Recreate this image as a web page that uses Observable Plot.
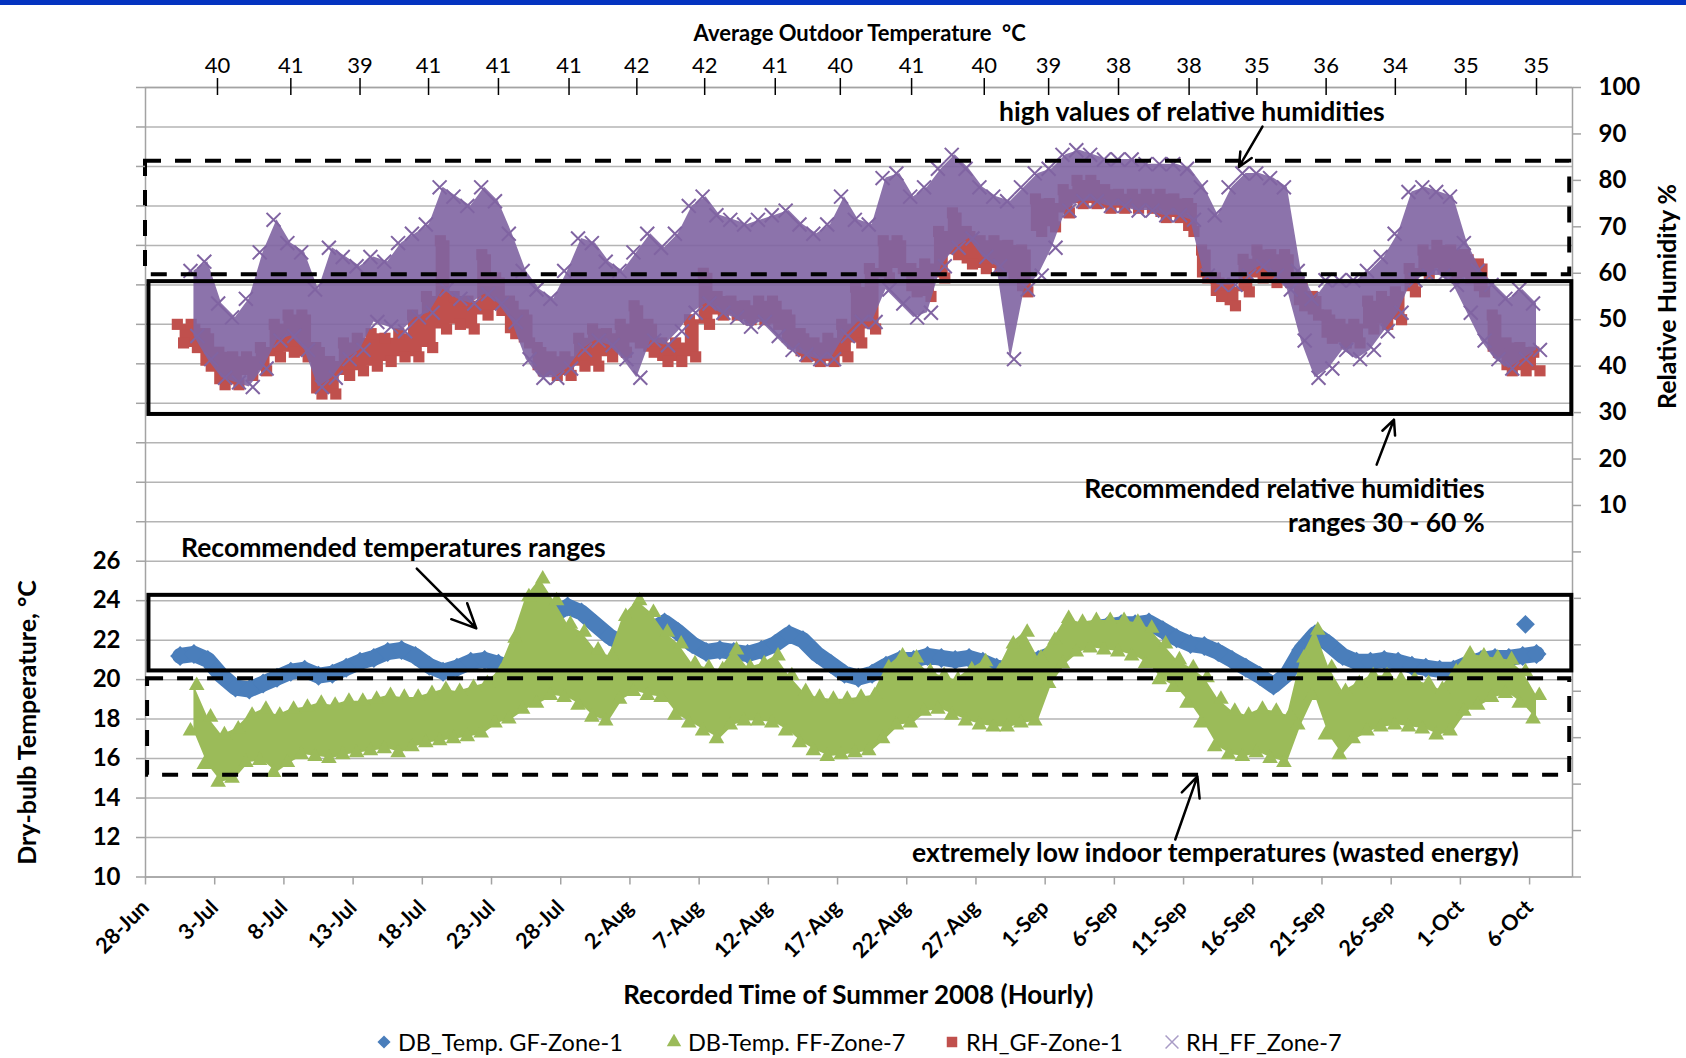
<!DOCTYPE html>
<html><head><meta charset="utf-8">
<script src="https://cdn.jsdelivr.net/npm/d3@7"></script>
<script src="https://cdn.jsdelivr.net/npm/@observablehq/plot@0.6"></script>
<style>
html,body{margin:0;padding:0;background:#fff;}
body{width:1686px;height:1058px;position:relative;overflow:hidden;font-family:Lato,"Open Sans",sans-serif;}
#bar{position:absolute;left:0;top:0;width:1686px;height:5px;background:#0433c0;}
#chart{position:absolute;left:0;top:0;}
#legend{position:absolute;left:0;top:1029px;width:1686px;height:26px;font-size:23.5px;color:#000;}
.item{position:absolute;top:0;height:26px;line-height:26px;display:flex;align-items:center;white-space:nowrap;}
.item svg{margin-right:6px;}
</style></head><body>
<div id="chart"></div><div id="bar"></div><div id="legend"></div>
<script>
// ---------- data (daily readings, first entry = 30-Jun-2008) ----------
const firstDay = 2; // days after 28-Jun
const dbGF = [21.2,21.3,21.0,20.2,19.6,19.5,19.8,20.1,20.4,20.5,
 20.2,20.3,20.6,20.9,21.1,21.4,21.5,21.2,20.7,20.4,
 20.6,20.9,21.0,20.8,20.6,21.5,22.5,23.3,23.7,23.4,
 22.8,22.2,21.8,21.9,22.5,22.9,22.4,21.8,21.4,21.5,
 21.4,21.3,21.5,21.8,22.3,22.0,21.3,20.8,20.3,20.1,
 20.3,20.7,21.0,21.0,21.2,21.1,21.0,21.1,20.9,20.6,
 20.5,20.6,21.0,21.3,21.8,22.3,22.6,22.7,22.8,22.8,
 22.9,22.5,22.1,21.8,21.7,21.4,21.0,20.6,20.2,19.7,
 20.3,21.5,22.3,21.8,21.2,20.9,20.9,21.0,20.9,20.7,
 20.6,20.5,20.5,20.8,21.0,21.1,21.1,21.2,21.3];
const dbGFOutlier = [{day: 99.7, value: 22.8}];
const dbFFLow = [null,17.4,15.7,14.8,15.0,15.8,15.9,15.3,15.8,16.2,
 16.1,16.0,16.2,16.3,16.4,16.5,16.3,16.6,16.8,16.9,
 17.0,17.1,17.3,17.8,18.0,18.5,18.8,19.2,19.1,18.7,
 18.1,17.9,19.0,19.4,19.2,19.1,18.2,17.8,17.4,17.0,
 17.7,17.9,17.9,17.8,17.4,16.8,16.4,16.1,16.2,16.3,
 16.4,17.0,17.7,17.8,18.4,18.5,18.2,17.9,17.7,17.6,
 17.6,17.8,17.9,19.8,20.8,21.4,21.6,21.5,21.4,21.2,
 20.8,20.0,19.6,18.8,17.8,16.6,16.2,16.1,16.3,16.0,
 15.8,17.7,19.2,17.2,16.2,17.0,17.4,17.6,17.7,17.6,
 17.5,17.2,17.4,18.4,18.7,19.1,19.3,18.8,18.0];
const dbFFHigh = [null,19.7,18.1,17.2,17.5,18.2,18.5,18.2,18.5,18.6,
 18.8,18.7,18.9,18.9,19.0,19.2,19.1,19.1,19.3,19.5,
 19.4,19.6,19.8,20.4,22.1,24.2,25.1,24.0,22.8,22.4,
 21.5,21.2,23.2,24.0,23.4,22.4,21.8,20.8,20.6,20.5,
 21.5,20.6,20.8,21.2,20.2,19.4,19.1,19.0,19.0,19.1,
 19.2,20.6,21.2,21.1,20.4,20.2,20.0,20.5,20.9,20.4,
 21.8,22.4,21.1,22.0,23.1,22.9,23.0,23.0,23.0,22.9,
 22.6,21.8,21.0,20.6,20.1,19.0,18.4,18.2,18.5,18.4,
 18.2,21.1,22.5,20.6,19.4,19.8,20.2,20.2,20.0,20.0,
 19.8,19.5,20.4,21.3,21.2,21.1,21.0,20.4,19.2];
const rhGFLow = [45,44,40,36,36,38,39,42,43,42,
 34,34,38,39,40,41,42,42,44,48,
 49,48,51,52,47,45,39,38,38,40,
 40,42,43,45,43,41,41,42,49,51,
 51,50,50,49,45,42,41,41,42,45,
 48,59,61,56,55,59,64,62,61,61,
 60,56,69,70,73,75,75,74,74,74,
 74,72,72,69,59,55,53,56,59,58,
 58,53,51,46,45,45,48,49,50,56,
 60,61,60,59,56,43,39,39,39];
const rhGFHigh = [49,49,47,43,42,42,44,49,51,51,
 44,41,45,46,47,46,47,51,55,67,
 55,54,64,59,54,51,44,42,42,46,
 48,47,49,53,49,45,45,50,60,55,
 54,53,54,54,51,47,45,46,49,57,
 61,67,67,61,62,69,73,69,67,67,
 66,65,76,75,78,80,80,78,77,77,
 77,77,76,75,65,59,57,63,65,64,
 64,58,55,51,49,49,54,55,56,61,
 65,66,65,64,62,51,45,44,43];
const rhFFLow = [null,46.5,41.5,37.5,36.5,35.5,39.5,45.5,46.5,43.5,
 35.5,37.5,41.5,43.5,49.5,48.5,47.5,50.5,51.5,56.5,
 54.5,53.5,55.5,53.5,49.5,41.5,37.5,37.5,39.5,43.5,
 45.5,44.5,41.5,37.5,45.5,44.5,47.5,51.5,53.5,51.5,
 50.5,48.5,49.5,46.5,43.5,42.5,41.5,41.5,46.5,49.5,
 49.5,56.5,53.5,50.5,51.5,61.5,65.5,67.5,63.5,61.5,
 41.5,56.5,59.5,65.5,73.5,75.5,75.5,74.5,74.5,73.5,
 73.5,72.5,72.5,71.5,59.5,57.5,57.5,59.5,61.5,59.5,
 56.5,45.5,37.5,39.5,43.5,41.5,43.5,47.5,51.5,58.5,
 59.5,59.5,57.5,51.5,45.5,41.5,39.5,41.5,43.5];
const rhFFHigh = [null,60.5,62.5,53.5,50.5,54.5,64.5,71.5,66.5,64.5,
 56.5,65.5,63.5,61.5,63.5,62.5,66.5,68.5,70.5,78.5,
 76.5,74.5,78.5,75.5,68.5,60.5,56.5,54.5,60.5,67.5,
 66.5,62.5,60.5,64.5,68.5,65.5,68.5,74.5,76.5,72.5,
 71.5,70.5,71.5,72.5,73.5,70.5,68.5,70.5,76.5,71.5,
 70.5,80.5,81.5,76.5,78.5,82.5,85.5,82.5,78.5,76.5,
 75.5,78.5,81.5,82.5,85.5,86.5,85.5,84.5,84.5,84.5,
 83.5,83.5,83.5,82.5,78.5,72.5,78.5,81.5,81.5,80.5,
 78.5,60.5,54.5,58.5,58.5,58.5,60.5,63.5,68.5,77.5,
 78.5,77.5,76.5,66.5,60.5,57.5,54.5,56.5,53.5];

// axes
const bottomTickDays = [0,5,10,15,20,25,30,35,40,45,50,55,60,65,70,75,80,85,90,95,100];
const topTickDays = [5.2,10.5,15.5,20.45,25.5,30.6,35.5,40.4,45.5,50.2,55.35,60.6,65.25,70.3,75.4,80.3,85.3,90.3,95.4,100.5];
const topTemps = [40,41,39,41,41,41,42,42,41,40,41,40,39,38,38,35,36,34,35,35];
const tempTicksLabelled = [10,12,14,16,18,20,22,24,26];
const tempTicksAll = [10,12,14,16,18,20,22,24,26,28,30,32,34,36,38,40,42,44,46,48,50];
const rhTicksLabelled = [10,20,30,40,50,60,70,80,90,100];
const rhTicksAll = [-70,-60,-50,-40,-30,-20,-10,0,10,20,30,40,50,60,70,80,90,100];

// annotations (x in days after 28-Jun; y in temperature °C or RH %)
const solidBoxes = [
  {x1: 0.25, x2: 103.05, axis: "T", y1: 20.44, y2: 24.27},
  {x1: 0.25, x2: 103.05, axis: "RH", y1: 29.6, y2: 58.2}];
const dashedBoxes = [
  {x1: 0.15, x2: 102.9, axis: "T", y1: 15.15, y2: 20.05},
  {x1: 0.0, x2: 102.9, axis: "RH", y1: 59.7, y2: 84.1}];
const arrows = [
  {x1: 19.6, y1: 25.62, x2: 23.9, y2: 22.6, axis: "T"},
  {x1: 80.7, y1: 91.6, x2: 79.0, y2: 82.9, axis: "RH"},
  {x1: 88.95, y1: 18.8, x2: 90.2, y2: 28.5, axis: "RH"},
  {x1: 74.4, y1: 11.9, x2: 76.0, y2: 15.1, axis: "T"}];
const notes = [
  {text: "high values of relative humidities", x: 75.6, y: 94.6, axis: "RH", anchor: "middle"},
  {text: "Recommended relative humidities", x: 96.75, y: 13.5, axis: "RH", anchor: "end"},
  {text: "ranges 30 - 60 %", x: 96.75, y: 6.2, axis: "RH", anchor: "end"},
  {text: "Recommended temperatures ranges", x: 2.57, y: 26.62, axis: "T", anchor: "start"},
  {text: "extremely low indoor temperatures (wasted energy)", x: 77.3, y: 11.2, axis: "T", anchor: "middle"}];
const seriesNames = ["DB_Temp. GF-Zone-1", "DB-Temp. FF-Zone-7", "RH_GF-Zone-1", "RH_FF_Zone-7"];
const seriesColors = ["#4a7ebb", "#9bbb59", "#c0504d", "#8064a2"];
const seriesSymbols = ["diamond2", "triangle", "square", "times"];

// ---------- helpers ----------
const DAY = 864e5;
const T0 = Date.UTC(2008, 5, 28);
const at = d => new Date(T0 + d * DAY);
const toT = rh => 10 + (rh + 70) * 40 / 170;      // RH (%) -> primary (°C) axis position
const fromT = t => Math.round((t - 10) * 170 / 40 - 70);
const yOf = (v, axis) => axis === "RH" ? toT(v) : v;
const [BLUE, GREEN, RED, PURPLE] = seriesColors;

const blue = dbGF.map((v, i) => ({day: firstDay + i + 0.5, v}));
function band(lo, hi, conv) {
  return lo.map((l, i) => ({day: firstDay + i, lo: l == null ? null : conv(l), hi: hi[i] == null ? null : conv(hi[i])}))
           .filter(d => d.lo != null);
}
const green = band(dbFFLow, dbFFHigh, v => v);
const red = band(rhGFLow, rhGFHigh, toT);
const purple = band(rhFFLow, rhFFHigh, toT);
const topLabel = new Map(topTickDays.map((d, i) => [+at(d), topTemps[i]]));
const fmt = d3.utcFormat("%-d-%b");
const noteOpts = a => ({x: d => at(d.x), y: d => yOf(d.y, d.axis), text: "text", textAnchor: a,
  fontWeight: "bold", fontSize: 26.5, fill: "#000"});

const chart = Plot.plot({
  width: 1686, height: 1012,
  marginLeft: 145, marginRight: 114, marginTop: 87, marginBottom: 135.5,
  x: {type: "utc", domain: [at(0), at(103.1)]},
  y: {domain: [10, 50]},
  style: {fontFamily: "Lato, 'Open Sans', sans-serif", fontSize: "22px", color: "#000", background: "transparent"},
  marks: [
    Plot.gridY(tempTicksAll, {stroke: "#b4b4b4", strokeOpacity: 1, strokeWidth: 1.5}),
    Plot.frame({stroke: "#a3a3a3", strokeWidth: 1.5}),
    // DB GF (blue diamonds)
    Plot.line(blue, {x: d => at(d.day), y: "v", stroke: BLUE, strokeWidth: 16}),
    Plot.dot(blue, {x: d => at(d.day), y: "v", symbol: "diamond2", r: 9, fill: BLUE}),
    Plot.dot(dbGFOutlier, {x: d => at(d.day), y: "value", symbol: "diamond2", r: 8.5, fill: BLUE}),
    // DB FF (green triangles)
    Plot.areaY(green, {x: d => at(d.day + 0.5), y1: "lo", y2: "hi", fill: GREEN}),
    Plot.dot(green, {x: d => at(d.day + 0.25), y: "lo", symbol: "triangle", r: 5.8, fill: GREEN}),
    Plot.dot(green, {x: d => at(d.day + 0.7), y: "hi", symbol: "triangle", r: 5.8, fill: GREEN}),
    // RH GF (red squares)
    Plot.areaY(red, {x: d => at(d.day + 0.5), y1: "lo", y2: "hi", fill: RED, curve: "step"}),
    Plot.dot(red, {x: d => at(d.day + 0.3), y: "hi", symbol: "square", r: 6.3, fill: RED}),
    Plot.dot(red, {x: d => at(d.day + 0.75), y: "lo", symbol: "square", r: 6.3, fill: RED}),
    // RH FF (purple crosses)
    Plot.areaY(purple, {x: d => at(d.day + 0.5), y1: "lo", y2: "hi", fill: PURPLE, fillOpacity: 0.9}),
    Plot.dot(purple, {x: d => at(d.day + 0.25), y: "hi", symbol: "times", r: 6.4, stroke: PURPLE, strokeWidth: 2}),
    Plot.dot(purple, {x: d => at(d.day + 0.75), y: "lo", symbol: "times", r: 6.4, stroke: PURPLE, strokeWidth: 2}),
    // annotation boxes
    Plot.rect(solidBoxes, {x1: d => at(d.x1), x2: d => at(d.x2), y1: d => yOf(d.y1, d.axis), y2: d => yOf(d.y2, d.axis),
      fill: "none", stroke: "#000", strokeWidth: 4}),
    Plot.rect(dashedBoxes, {x1: d => at(d.x1), x2: d => at(d.x2), y1: d => yOf(d.y1, d.axis), y2: d => yOf(d.y2, d.axis),
      fill: "none", stroke: "#000", strokeWidth: 4, strokeDasharray: "16,14"}),
    Plot.arrow(arrows, {x1: d => at(d.x1), y1: d => yOf(d.y1, d.axis), x2: d => at(d.x2), y2: d => yOf(d.y2, d.axis),
      stroke: "#000", strokeWidth: 2.5, headLength: 16, headAngle: 50}),
    Plot.text(notes.filter(d => d.anchor === "middle"), noteOpts("middle")),
    Plot.text(notes.filter(d => d.anchor === "end"), noteOpts("end")),
    Plot.text(notes.filter(d => d.anchor === "start"), noteOpts("start")),
    // axes
    Plot.axisY(tempTicksAll, {anchor: "left", tickSize: 9, tickPadding: 16, stroke: "#a3a3a3", strokeWidth: 1.5,
      tickFormat: t => tempTicksLabelled.includes(t) ? t : "", fontWeight: "bold", fontSize: 24, label: null}),
    Plot.axisY(rhTicksAll.map(toT), {anchor: "right", tickSize: 8, tickPadding: 18, stroke: "#a3a3a3", strokeWidth: 1.5,
      tickFormat: t => rhTicksLabelled.includes(fromT(t)) ? fromT(t) : "", fontWeight: "bold", fontSize: 24, label: null}),
    Plot.axisX(bottomTickDays.map(at), {anchor: "bottom", tickSize: 8, tickPadding: 19, tickRotate: -45,
      stroke: "#a3a3a3", strokeWidth: 1.5, tickFormat: fmt, fontWeight: "bold", fontSize: 21.5, label: null}),
    Plot.axisX(topTickDays.map(at), {anchor: "top", tickSize: 17, dy: 7, tickPadding: 5, stroke: "#000", strokeWidth: 1.5,
      tickFormat: d => topLabel.get(+d), fontSize: 22, label: null}),
    // axis titles
    Plot.text(["Average Outdoor Temperature  \u00b0C"], {x: () => at(51.6), frameAnchor: "top", dy: -62,
      textAnchor: "middle", fontWeight: "bold", fontSize: 22}),
    Plot.text(["Recorded Time of Summer 2008 (Hourly)"], {x: () => at(51.5), frameAnchor: "bottom", dy: 127,
      textAnchor: "middle", fontWeight: "bold", fontSize: 26}),
    Plot.text(["Dry-bulb Temperature, \u00b0C"], {y: () => 17.83, frameAnchor: "left", dx: -118, rotate: -90,
      textAnchor: "middle", fontWeight: "bold", fontSize: 25}),
    Plot.text(["Relative Humidity %"], {y: () => toT(55), frameAnchor: "right", dx: 95, rotate: -90,
      textAnchor: "middle", fontWeight: "bold", fontSize: 25})
  ]
});
document.getElementById("chart").append(chart);

// legend
const legendLeft = [376, 666, 944, 1164];
const legend = d3.select("#legend");
seriesNames.forEach((name, i) => {
  const item = legend.append("span").attr("class", "item").style("left", legendLeft[i] + "px");
  const s = item.append("svg").attr("width", 16).attr("height", 16).append("g").attr("transform", "translate(8,8)");
  const sym = {diamond2: d3.symbolDiamond2, triangle: d3.symbolTriangle, square: d3.symbolSquare, times: d3.symbolTimes}[seriesSymbols[i]];
  const p = s.append("path").attr("d", d3.symbol(sym, i === 1 ? 90 : 110)());
  if (seriesSymbols[i] === "times") p.attr("fill", "none").attr("stroke", "#a99cc6").attr("stroke-width", 1.5);
  else p.attr("fill", seriesColors[i]);
  item.append("span").text(name);
});
</script></body></html>
